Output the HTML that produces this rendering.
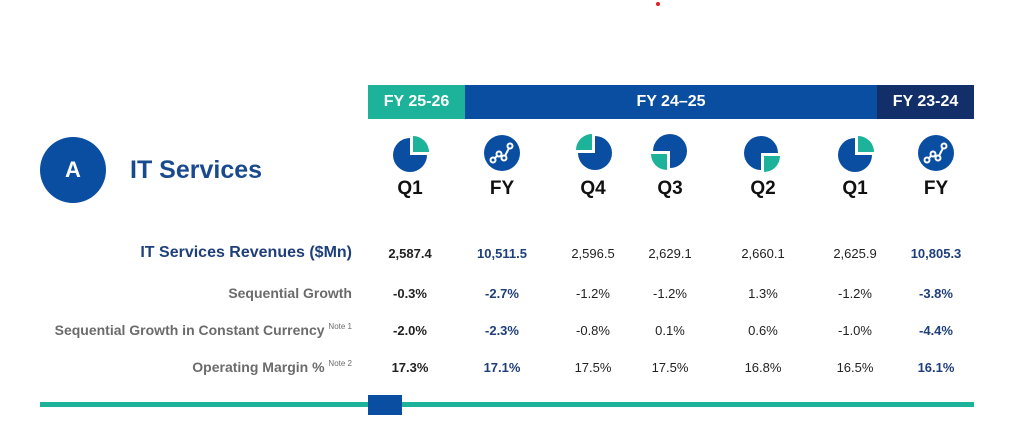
<!DOCTYPE html>
<html><head><meta charset="utf-8"><style>
body{margin:0;width:1024px;height:426px;background:#fff;position:relative;overflow:hidden;font-family:"Liberation Sans",Arial,sans-serif}
.a{position:absolute}
.hdr{position:absolute;top:85px;height:34px;color:#fff;font-weight:bold;font-size:16px;line-height:34px;text-align:center}
.ql{position:absolute;top:178px;width:80px;margin-left:-40px;text-align:center;font-weight:bold;font-size:19px;color:#111}
.ic{position:absolute;top:133px;width:40px;height:40px;margin-left:-20px}
.v{position:absolute;width:90px;margin-left:-45px;text-align:center;font-size:13px;color:#222}
.b{font-weight:bold}.n{color:#1f3f7a;font-weight:bold}
.lbl{position:absolute;right:672px;text-align:right;font-weight:bold;color:#6b6b6b;font-size:14px;white-space:nowrap}
sup{font-size:8px;font-weight:normal;vertical-align:6px}
</style></head><body>
<div class="a" style="left:656px;top:2px;width:4px;height:4px;border-radius:2px;background:#d22"></div>
<div class="hdr" style="left:368px;width:97px;background:#1db39a">FY 25-26</div>
<div class="hdr" style="left:465px;width:412px;background:#0a4ea2">FY 24–25</div>
<div class="hdr" style="left:877px;width:97px;background:#132f69">FY 23-24</div>
<div class="a" style="left:40px;top:137px;width:66px;height:66px;border-radius:33px;background:#0a4ea2;color:#fff;font-size:22px;font-weight:bold;text-align:center;line-height:66px">A</div>
<div class="a" style="left:130px;top:156px;font-size:25px;font-weight:bold;color:#1a4a8e">IT Services</div>
<div id="cols"></div>
<div class="lbl" style="top:244px;font-size:16px;color:#1f3f7a">IT Services Revenues ($Mn)</div>
<div class="lbl" style="top:285px">Sequential Growth</div>
<div class="lbl" style="top:322px">Sequential Growth in Constant Currency <sup>Note 1</sup></div>
<div class="lbl" style="top:359px">Operating Margin % <sup>Note 2</sup></div>
<div class="a" style="left:40px;top:402px;width:934px;height:5px;background:#1db39a"></div>
<div class="a" style="left:368px;top:395px;width:34px;height:20px;background:#0a4ea2"></div>
<script>
const periods=["Q1","FY","Q4","Q3","Q2","Q1","FY"];
const revenues=["2,587.4","10,511.5","2,596.5","2,629.1","2,660.1","2,625.9","10,805.3"];
const seqGrowth=["-0.3%","-2.7%","-1.2%","-1.2%","1.3%","-1.2%","-3.8%"];
const ccGrowth=["-2.0%","-2.3%","-0.8%","0.1%","0.6%","-1.0%","-4.4%"];
const opMargin=["17.3%","17.1%","17.5%","17.5%","16.8%","16.5%","16.1%"];
const xs=[410,502,593,670,763,855,936];
const rowsY=[245,286,323,360];
const c=document.getElementById('cols');
const B='#0a4ea2',T='#1db39a';
function iconSvg(i){
 const p=periods[i];
 if(p==="FY") return `<svg width="40" height="40" viewBox="0 0 40 40"><circle cx="20" cy="20" r="18" fill="${B}"/><polyline points="11,27 17,21 22,25 28,13" fill="none" stroke="#fff" stroke-width="2"/><g fill="${B}" stroke="#fff" stroke-width="2"><circle cx="11" cy="27" r="2.5"/><circle cx="17" cy="21" r="2.5"/><circle cx="22" cy="25" r="2.5"/><circle cx="28" cy="13" r="2.5"/></g></svg>`;
 const rot={Q1:0,Q4:270,Q3:180,Q2:90}[p];
 return `<svg width="40" height="40" viewBox="0 0 40 40"><g transform="rotate(${rot} 20 20)"><path d="M20 22 L20 5 A17 17 0 1 0 37 22 Z" fill="${B}"/><path d="M23 19 L23 3 A16 16 0 0 1 39 19 Z" fill="${T}"/></g></svg>`;
}
periods.forEach((p,i)=>{
 const x=xs[i];const fy=p==="FY";const q1=i===0;
 const ic=document.createElement('div');ic.className='ic';ic.style.left=x+'px';ic.innerHTML=iconSvg(i);
 
 
 c.appendChild(ic);
 const l=document.createElement('div');l.className='ql';l.style.left=x+'px';l.textContent=p;
 
 
 c.appendChild(l);
 [revenues,seqGrowth,ccGrowth,opMargin].forEach((arr,r)=>{
  const v=document.createElement('div');
  v.className='v'+(fy?' n':(q1?' b':''));
  v.style.left=x+'px';v.style.top=(rowsY[r]+(r===0?1:0))+'px';
  v.textContent=arr[i];
  
  
  c.appendChild(v);
 });
});
</script>
</body></html>
